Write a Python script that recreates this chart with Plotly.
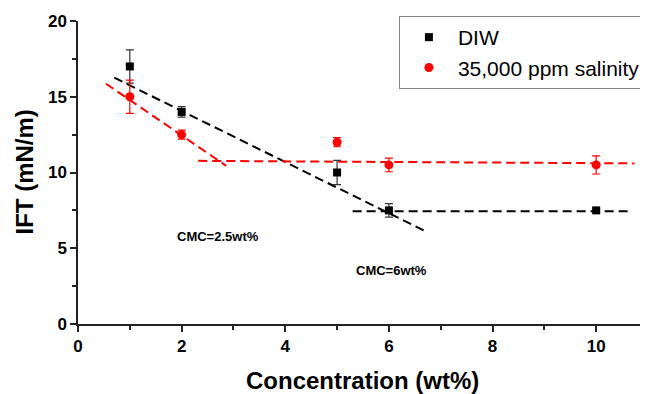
import plotly.graph_objects as go

conc = [1, 2, 5, 6, 10]
diw_ift = [17.0, 14.0, 10.0, 7.5, 7.5]
diw_err = [1.1, 0.35, 0.8, 0.45, 0.1]
sal_ift = [15.0, 12.5, 12.0, 10.5, 10.5]
sal_err = [1.1, 0.3, 0.3, 0.45, 0.6]

# dashed trend lines (x, y endpoints)
diw_fit1_x = [0.70, 6.73]
diw_fit1_y = [16.26, 6.08]
diw_fit2_x = [5.3, 10.7]
diw_fit2_y = [7.45, 7.45]
sal_fit1_x = [0.54, 2.86]
sal_fit1_y = [15.86, 10.44]
sal_fit2_x = [2.32, 10.74]
sal_fit2_y = [10.77, 10.6]

RED = "#ff0000"
FONT = "Liberation Sans, Arial"
fig = go.Figure()

for fx, fy, c in [(diw_fit1_x, diw_fit1_y, "black"), (diw_fit2_x, diw_fit2_y, "black"),
                  (sal_fit1_x, sal_fit1_y, RED), (sal_fit2_x, sal_fit2_y, RED)]:
    fig.add_trace(go.Scatter(x=fx, y=fy, mode="lines", showlegend=False,
                             line=dict(color=c, width=2, dash="9px,5px"), hoverinfo="skip"))

fig.add_trace(go.Scatter(x=conc, y=diw_ift, mode="markers", name="DIW",
                         marker=dict(symbol="square", size=8, color="black"),
                         error_y=dict(type="data", array=diw_err, color="#333333", thickness=1.2, width=4)))
fig.add_trace(go.Scatter(x=conc, y=sal_ift, mode="markers", name="35,000 ppm salinity",
                         marker=dict(symbol="circle", size=9, color=RED),
                         error_y=dict(type="data", array=sal_err, color=RED, thickness=1.2, width=4)))

fig.add_annotation(x=2.7, y=5.75, text="<b>CMC=2.5wt%</b>", showarrow=False,
                   font=dict(family=FONT, size=13, color="black"))
fig.add_annotation(x=6.05, y=3.5, text="<b>CMC=6wt%</b>", showarrow=False,
                   font=dict(family=FONT, size=13, color="black"))

# axis titles
fig.add_annotation(xref="paper", yref="paper", x=0.499, y=-0.188, yanchor="middle",
                   text="<b>Concentration (wt%)</b>", showarrow=False,
                   font=dict(family=FONT, size=24, color="black"))
fig.add_annotation(xref="paper", yref="paper", x=-0.0947, y=0.5, xanchor="center", yanchor="middle",
                   textangle=-90, text="<b>IFT (mN/m)</b>", showarrow=False,
                   font=dict(family=FONT, size=24, color="black"))

axis_common = dict(showline=True, linecolor="#222222", linewidth=1.5, ticks="outside",
                   ticklen=6, tickwidth=1.5, tickcolor="#222222", showgrid=False, zeroline=False,
                   tickfont=dict(family=FONT, size=17, color="black", weight="bold"),
                   mirror=False, automargin=False)

fig.update_layout(
    width=640, height=386,
    margin=dict(l=70, r=0, t=13, b=70),
    plot_bgcolor="white", paper_bgcolor="white",
    font=dict(family=FONT, color="black"),
    xaxis=dict(range=[0, 11], dtick=2, tick0=0,
               minor=dict(dtick=1, ticks="outside", ticklen=4, tickwidth=1.5, tickcolor="#222222"),
               **axis_common),
    yaxis=dict(range=[0, 20], dtick=5, tick0=0,
               minor=dict(dtick=2.5, ticks="outside", ticklen=4, tickwidth=1.5, tickcolor="#222222"),
               **axis_common),
    legend=dict(x=0.563, y=1.0165, xanchor="left", yanchor="top",
                bordercolor="#888888", borderwidth=1, bgcolor="white",
                font=dict(family=FONT, size=21, color="black"),
                itemwidth=48),
)

fig.write_html("out.html")
